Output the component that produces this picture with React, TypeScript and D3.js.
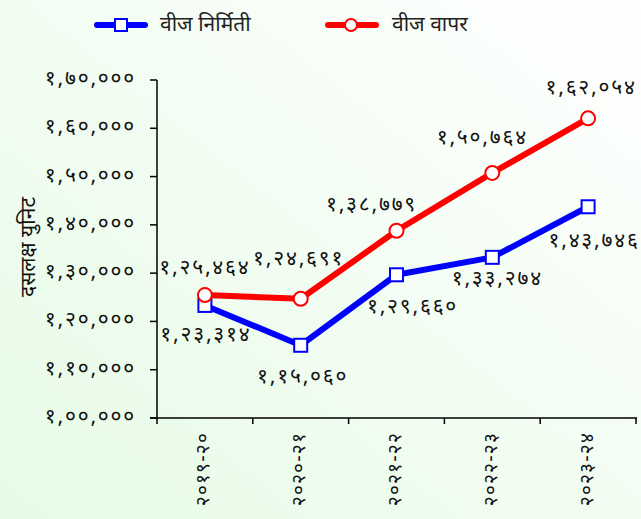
import React from "react";
import * as d3 from "d3";

const categories = ["२०१९-२०", "२०२०-२१", "२०२१-२२", "२०२२-२३", "२०२३-२४"];
const generation = [123314, 115060, 129660, 133274, 143746];
const consumption = [125464, 124691, 138779, 150764, 162054];
const yTicks = [100000, 110000, 120000, 130000, 140000, 150000, 160000, 170000];
const seriesNames = ["वीज निर्मिती", "वीज वापर"];
const yTitle = "दसलक्ष युनिट";

// label offsets (layout only)
const genOffsets = [[1, 31], [2, 33], [16, 33], [5, 23], [6, 35]];
const conOffsets = [[0, -26], [-2, -39], [-25, -25], [-10, -34], [3, -29]];

const DEV = "०१२३४५६७८९";
function toDev(s: string) {
  return s.replace(/[0-9]/g, (d) => DEV[+d]);
}
function indian(n: number) {
  const s = String(Math.round(n));
  if (s.length <= 3) return toDev(s);
  const last3 = s.slice(-3);
  let rest = s.slice(0, -3);
  const parts: string[] = [];
  while (rest.length > 2) {
    parts.unshift(rest.slice(-2));
    rest = rest.slice(0, -2);
  }
  if (rest.length) parts.unshift(rest);
  return toDev(parts.join(",") + "," + last3);
}

const W = 641;
const H = 519;
const FONT = "'Noto Sans Devanagari', 'Lohit Devanagari', 'Noto Sans', sans-serif";
const NUM_SIZE = 21;
const NUM_LS = 1.8;

export default function App() {
  const x = d3.scaleBand<string>().domain(categories).range([157, 636]).padding(0);
  const y = d3.scaleLinear().domain([100000, 170000]).range([418, 80]);
  const cx = (c: string) => (x(c) as number) + x.bandwidth() / 2;
  const line = d3
    .line<number>()
    .x((_, i) => cx(categories[i]))
    .y((d) => y(d));

  const blue = "#0000ff";
  const red = "#ff0000";

  const numProps = {
    fontSize: NUM_SIZE,
    letterSpacing: NUM_LS,
    fill: "#111",
  };

  return (
    <svg
      width={W}
      height={H}
      style={{ position: "absolute", left: 0, top: 0, fontFamily: FONT }}
    >
      <defs>
        <linearGradient id="bg" x1="1" y1="0" x2="0" y2="1">
          <stop offset="0" stopColor="#ffffff" />
          <stop offset="1" stopColor="#e6fbe6" />
        </linearGradient>
      </defs>
      <rect x={0} y={0} width={W} height={H} fill="url(#bg)" />

      {/* legend */}
      <g>
        <line x1={97} x2={145} y1={25} y2={25} stroke={blue} strokeWidth={6} strokeLinecap="round" />
        <rect x={115} y={19} width={12} height={12} fill="#fff" stroke={blue} strokeWidth={2} />
        <text x={160} y={26} dominantBaseline="central" fontSize={21} fill="#222">
          {seriesNames[0]}
        </text>
        <line x1={328} x2={376} y1={25} y2={25} stroke={red} strokeWidth={6} strokeLinecap="round" />
        <circle cx={351} cy={25} r={6} fill="#fff" stroke={red} strokeWidth={2} />
        <text x={392} y={26} dominantBaseline="central" fontSize={21} fill="#222">
          {seriesNames[1]}
        </text>
      </g>

      {/* y axis */}
      <line x1={157} x2={157} y1={80} y2={424} stroke="#000" strokeWidth={1.5} />
      {yTicks.map((t) => (
        <g key={t}>
          <line x1={150} x2={157} y1={y(t)} y2={y(t)} stroke="#000" strokeWidth={1.5} />
          <text x={136} y={y(t)} textAnchor="end" dominantBaseline="central" {...numProps}>
            {indian(t)}
          </text>
        </g>
      ))}
      <text
        transform={`translate(30,${247}) rotate(-90)`}
        textAnchor="middle"
        dominantBaseline="central"
        fontSize={21}
        fill="#111"
      >
        {yTitle}
      </text>

      {/* x axis */}
      <line x1={150} x2={637} y1={418} y2={418} stroke="#000" strokeWidth={1.5} />
      {categories.map((c, i) => (
        <line
          key={"xt" + i}
          x1={(x(c) as number) + x.bandwidth()}
          x2={(x(c) as number) + x.bandwidth()}
          y1={418}
          y2={424}
          stroke="#000"
          strokeWidth={1.5}
        />
      ))}
      {categories.map((c) => (
        <text
          key={c}
          transform={`translate(${cx(c)},432) rotate(-90)`}
          textAnchor="end"
          dominantBaseline="central"
          fontSize={19}
          letterSpacing={1.2}
          fill="#111"
        >
          {c}
        </text>
      ))}

      {/* lines */}
      <path d={line(generation) || ""} fill="none" stroke={blue} strokeWidth={6} strokeLinejoin="round" />
      <path d={line(consumption) || ""} fill="none" stroke={red} strokeWidth={6} strokeLinejoin="round" />

      {generation.map((v, i) => (
        <rect
          key={"g" + i}
          x={cx(categories[i]) - 6.5}
          y={y(v) - 6.5}
          width={13}
          height={13}
          fill="#fff"
          stroke={blue}
          strokeWidth={2}
        />
      ))}
      {consumption.map((v, i) => (
        <circle key={"c" + i} cx={cx(categories[i])} cy={y(v)} r={7} fill="#fff" stroke={red} strokeWidth={2} />
      ))}

      {/* data labels */}
      {consumption.map((v, i) => (
        <text
          key={"cl" + i}
          x={cx(categories[i]) + conOffsets[i][0]}
          y={y(v) + conOffsets[i][1]}
          textAnchor="middle"
          dominantBaseline="central"
          {...numProps}
        >
          {indian(v)}
        </text>
      ))}
      {generation.map((v, i) => (
        <text
          key={"gl" + i}
          x={cx(categories[i]) + genOffsets[i][0]}
          y={y(v) + genOffsets[i][1]}
          textAnchor="middle"
          dominantBaseline="central"
          {...numProps}
        >
          {indian(v)}
        </text>
      ))}
    </svg>
  );
}
